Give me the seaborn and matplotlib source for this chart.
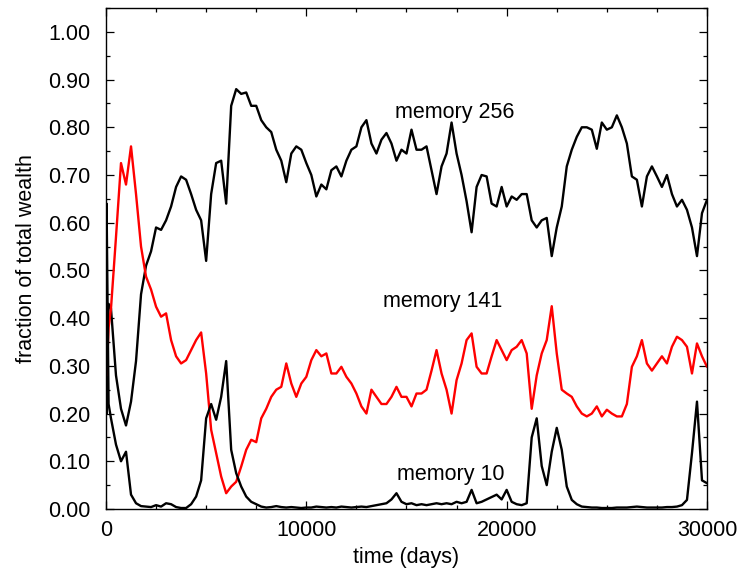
import matplotlib
matplotlib.use("Agg")
import matplotlib.pyplot as plt
from matplotlib.ticker import MultipleLocator, FormatStrFormatter
import seaborn as sns
import pandas as pd

# sampling grid in days (dense at the very start, then every 250 days)
days = [0, 30, 130] + list(range(250, 30001, 250))

memory_256 = [
    0.30, 0.20, 0.43,
    0.42, 0.28, 0.21, 0.175, 0.225, 0.31, 0.45, 0.51, 0.54, 0.59, 0.585, 0.605,
    0.634, 0.675, 0.697, 0.69, 0.66, 0.627, 0.605, 0.52, 0.66, 0.725, 0.73, 0.64,
    0.845, 0.88, 0.87, 0.873, 0.845, 0.845, 0.815, 0.80, 0.79, 0.753, 0.73, 0.685,
    0.745, 0.76, 0.753, 0.725, 0.70, 0.655, 0.68, 0.67, 0.71, 0.718, 0.697, 0.73,
    0.753, 0.76, 0.80, 0.815, 0.766, 0.745, 0.774, 0.788, 0.766, 0.73, 0.753, 0.745,
    0.795, 0.753, 0.753, 0.76, 0.71, 0.66, 0.718, 0.745, 0.81, 0.745, 0.70, 0.645,
    0.58, 0.675, 0.70, 0.697, 0.64, 0.634, 0.675, 0.634, 0.655, 0.648, 0.66, 0.66,
    0.605, 0.59, 0.605, 0.61, 0.53, 0.59, 0.634, 0.718, 0.753, 0.78, 0.80, 0.80,
    0.795, 0.755, 0.81, 0.795, 0.80, 0.825, 0.80, 0.766, 0.697, 0.69, 0.634, 0.697,
    0.718, 0.697, 0.675, 0.70, 0.66, 0.634, 0.648, 0.627, 0.59, 0.53, 0.62, 0.648,
]

memory_141 = [
    0.36, 0.28, 0.38,
    0.42, 0.57, 0.725, 0.68, 0.76, 0.66, 0.55, 0.487, 0.46, 0.424, 0.403, 0.41,
    0.354, 0.32, 0.305, 0.312, 0.333, 0.354, 0.37, 0.284, 0.166, 0.117, 0.068, 0.033,
    0.047, 0.057, 0.089, 0.124, 0.145, 0.14, 0.19, 0.21, 0.235, 0.25, 0.256, 0.305,
    0.263, 0.235, 0.263, 0.277, 0.312, 0.333, 0.32, 0.326, 0.284, 0.284, 0.298, 0.277,
    0.263, 0.242, 0.215, 0.20, 0.25, 0.235, 0.22, 0.22, 0.235, 0.256, 0.235, 0.235,
    0.215, 0.242, 0.242, 0.25, 0.29, 0.333, 0.284, 0.25, 0.20, 0.27, 0.305, 0.354,
    0.368, 0.298, 0.284, 0.284, 0.32, 0.354, 0.333, 0.312, 0.333, 0.34, 0.354, 0.326,
    0.21, 0.28, 0.326, 0.354, 0.425, 0.326, 0.25, 0.242, 0.235, 0.215, 0.20, 0.194,
    0.20, 0.215, 0.194, 0.208, 0.20, 0.194, 0.194, 0.22, 0.298, 0.32, 0.354, 0.305,
    0.29, 0.305, 0.32, 0.305, 0.34, 0.361, 0.354, 0.34, 0.284, 0.347, 0.32, 0.298,
]

memory_10 = [
    0.34, 0.64, 0.22,
    0.19, 0.135, 0.10, 0.12, 0.03, 0.012, 0.006, 0.005, 0.004, 0.008, 0.005, 0.012,
    0.01, 0.004, 0.002, 0.002, 0.01, 0.026, 0.06, 0.19, 0.22, 0.187, 0.235, 0.31,
    0.124, 0.075, 0.047, 0.026, 0.015, 0.01, 0.005, 0.003, 0.004, 0.006, 0.004, 0.003,
    0.004, 0.003, 0.002, 0.003, 0.003, 0.005, 0.004, 0.003, 0.004, 0.003, 0.005, 0.004,
    0.003, 0.004, 0.005, 0.004, 0.006, 0.008, 0.01, 0.012, 0.02, 0.033, 0.015, 0.01,
    0.012, 0.008, 0.01, 0.008, 0.01, 0.012, 0.01, 0.012, 0.01, 0.015, 0.012, 0.015,
    0.04, 0.012, 0.015, 0.02, 0.025, 0.03, 0.02, 0.04, 0.015, 0.01, 0.008, 0.012,
    0.15, 0.19, 0.09, 0.05, 0.12, 0.17, 0.124, 0.047, 0.019, 0.01, 0.005, 0.004,
    0.003, 0.003, 0.002, 0.002, 0.002, 0.003, 0.003, 0.003, 0.004, 0.005, 0.004, 0.003,
    0.003, 0.003, 0.003, 0.004, 0.004, 0.005, 0.008, 0.019, 0.117, 0.225, 0.06, 0.054,
]

series_names = ["memory 256", "memory 141", "memory 10"]
series_colors = ["black", "red", "black"]
series_labels = [("memory 256", 17400, 0.83), ("memory 141", 16800, 0.435), ("memory 10", 17200, 0.072)]

frames = []
for name, vals in zip(series_names, [memory_256, memory_141, memory_10]):
    frames.append(pd.DataFrame({"time": days, "fraction": vals, "series": name}))
data = pd.concat(frames, ignore_index=True)

sns.set_style("ticks")
plt.rcParams["font.family"] = ["Liberation Sans", "DejaVu Sans"]
plt.rcParams["text.color"] = "black"
plt.rcParams["axes.labelcolor"] = "black"
plt.rcParams["xtick.color"] = "black"
plt.rcParams["ytick.color"] = "black"

fig = plt.figure(figsize=(7.39, 5.77), dpi=100)
ax = fig.add_axes([0.1434, 0.1179, 0.8133, 0.8682])

sns.lineplot(data=data, x="time", y="fraction", hue="series",
             hue_order=series_names, palette=series_colors,
             estimator=None, sort=False, linewidth=1.7, legend=False, ax=ax)

for text, tx, ty in series_labels:
    ax.text(tx, ty, text, ha="center", va="center", fontsize=15.5, color="black")

ax.set_xlim(0, 30000)
ax.set_ylim(0, 1.05)
ax.xaxis.set_major_locator(MultipleLocator(10000))
ax.xaxis.set_minor_locator(MultipleLocator(2500))
ax.yaxis.set_major_locator(MultipleLocator(0.10))
ax.yaxis.set_minor_locator(MultipleLocator(0.05))
ax.yaxis.set_major_formatter(FormatStrFormatter("%.2f"))
ax.set_yticks([0.0, 0.1, 0.2, 0.3, 0.4, 0.5, 0.6, 0.7, 0.8, 0.9, 1.0])

ax.tick_params(which="both", direction="in", top=True, right=True, width=0.9,
               colors="black", labelcolor="black")
ax.tick_params(which="major", length=6, labelsize=15.5)
ax.tick_params(which="minor", length=3)
ax.tick_params(axis="y", which="major", pad=11)
ax.tick_params(axis="x", which="major", pad=8)
for sp in ax.spines.values():
    sp.set_linewidth(1.0)
    sp.set_color("black")

ax.set_xlabel("time (days)", fontsize=15.5, labelpad=4, color="black")
ax.set_ylabel("fraction of total wealth", fontsize=15.5, labelpad=8, color="black")

fig.savefig("out.png", dpi=100)
